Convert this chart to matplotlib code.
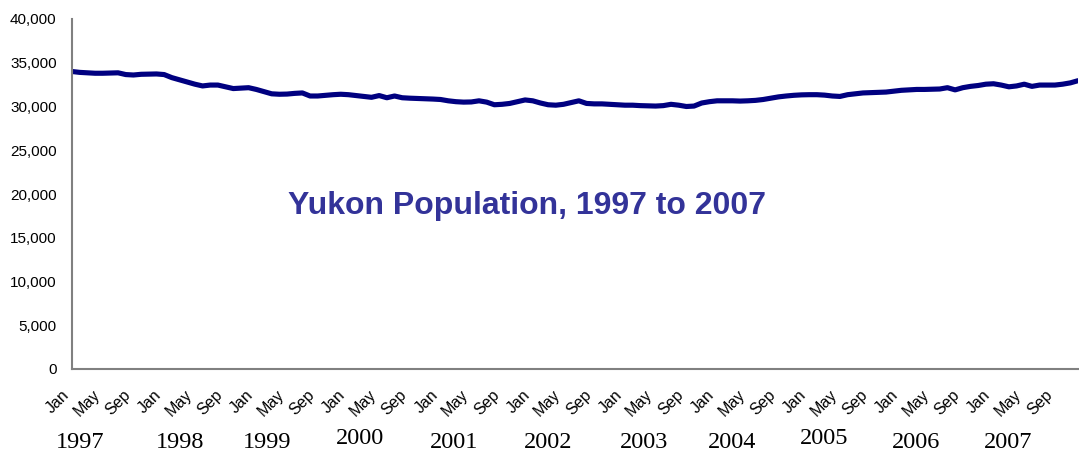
import numpy as np
import matplotlib
matplotlib.use("Agg")
import matplotlib.pyplot as plt
import matplotlib.transforms as mtransforms

# Monthly Yukon population, Jan 1997 - Dec 2007
pop_1997 = [34000, 33900, 33850, 33800, 33800, 33820, 33850, 33650, 33600, 33680, 33700, 33720]
pop_1998 = [33650, 33300, 33050, 32800, 32550, 32350, 32450, 32450, 32250, 32050, 32100, 32150]
pop_1999 = [31950, 31700, 31450, 31400, 31420, 31500, 31550, 31200, 31200, 31280, 31350, 31400]
pop_2000 = [31350, 31250, 31150, 31050, 31250, 31000, 31200, 31000, 30950, 30920, 30900, 30850]
pop_2001 = [30800, 30650, 30550, 30500, 30520, 30650, 30500, 30200, 30250, 30350, 30550, 30750]
pop_2002 = [30650, 30400, 30200, 30150, 30250, 30450, 30650, 30350, 30300, 30300, 30250, 30200]
pop_2003 = [30150, 30150, 30100, 30080, 30050, 30100, 30250, 30150, 30000, 30050, 30400, 30550]
pop_2004 = [30650, 30650, 30650, 30620, 30650, 30700, 30800, 30950, 31100, 31200, 31280, 31330]
pop_2005 = [31350, 31350, 31300, 31200, 31150, 31350, 31450, 31550, 31580, 31600, 31650, 31750]
pop_2006 = [31850, 31900, 31950, 31950, 31980, 32000, 32150, 31900, 32150, 32300, 32400, 32550]
pop_2007 = [32600, 32450, 32250, 32350, 32550, 32300, 32450, 32450, 32450, 32550, 32700, 32950]

years = ["1997", "1998", "1999", "2000", "2001", "2002", "2003", "2004", "2005", "2006", "2007"]
month_labels = ["Jan", "May", "Sep"]
# x pixel centre of each hand-placed year label in the reference
year_label_x = [80, 180, 267, 360, 454, 548, 644, 732, 824, 916, 1008]
year_label_y = [443, 442, 442, 439, 442, 442, 442, 442, 439, 442, 442]

population = (pop_1997 + pop_1998 + pop_1999 + pop_2000 + pop_2001 + pop_2002
              + pop_2003 + pop_2004 + pop_2005 + pop_2006 + pop_2007)
months = np.arange(len(population))

W, H = 1079, 454
fig = plt.figure(figsize=(W / 100, H / 100), dpi=100)
ax = fig.add_axes([72 / W, 1 - 369 / H, (1078 - 72) / W, (369 - 19) / H])

ax.plot(months, population, color="#000080", linewidth=3.7, solid_capstyle="round")

ax.set_xlim(0, len(population) - 1)
ax.set_ylim(0, 40000)
ax.set_yticks(np.arange(0, 40001, 5000))
ax.set_yticklabels([f"{v:,}" for v in range(0, 40001, 5000)],
                   fontsize=11, family="Liberation Sans")

tick_pos = months[::4]
ax.set_xticks(tick_pos)
ax.set_xticklabels([month_labels[i % 3] for i in range(len(tick_pos))],
                   rotation=45, ha="right", fontsize=11.5, family="Liberation Sans")
shift = mtransforms.ScaledTranslation(-2 / 100, 0, fig.dpi_scale_trans)
for lbl in ax.get_xticklabels():
    lbl.set_transform(lbl.get_transform() + shift)

ax.tick_params(axis="both", length=0)
ax.tick_params(axis="y", pad=11)
ax.tick_params(axis="x", pad=13)

for side in ["top", "right"]:
    ax.spines[side].set_visible(False)
for side in ["left", "bottom"]:
    ax.spines[side].set_color("#808080")
    ax.spines[side].set_linewidth(1.5)

# year labels under the month ticks
for yr, px, py in zip(years, year_label_x, year_label_y):
    fig.text(px / W, 1 - py / H, yr, ha="center", va="center",
             fontsize=17.5, family="Liberation Serif", color="black")

# title inside the plot area
fig.text(527 / W, 1 - 206 / H, "Yukon Population, 1997 to 2007", ha="center", va="center",
         fontsize=23, fontweight="bold", family="Liberation Sans", color="#333399")

fig.savefig("out.png", dpi=100)
